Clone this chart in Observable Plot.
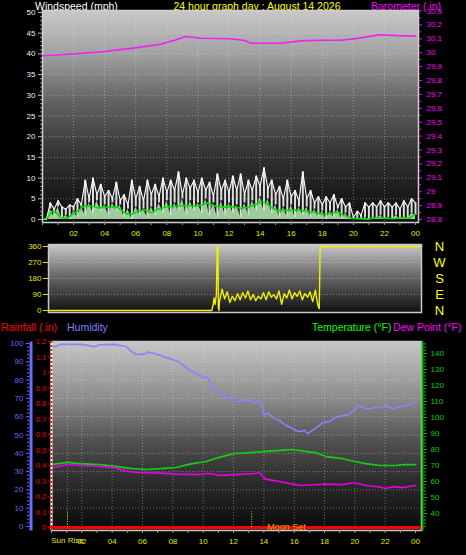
<!DOCTYPE html>
<html><head><meta charset="utf-8">
<script src="https://cdn.jsdelivr.net/npm/d3@7"></script>
<script src="https://cdn.jsdelivr.net/npm/@observablehq/plot@0.6"></script>
<style>
html,body{margin:0;padding:0;background:#000;overflow:hidden}
#wrap{position:relative;width:466px;height:555px;background:#000;font-family:"Liberation Sans",Arial,sans-serif}
.t{position:absolute;white-space:nowrap;font-size:10.5px;line-height:1}
</style></head><body>
<svg width="0" height="0" style="position:absolute"><defs>
<linearGradient id="gTop" x1="0" y1="0" x2="0" y2="1">
<stop offset="0" stop-color="#c8c8c8"/><stop offset="0.2" stop-color="#a2a2a2"/><stop offset="0.42" stop-color="#646464"/><stop offset="0.68" stop-color="#323232"/><stop offset="1" stop-color="#0a0a0a"/>
</linearGradient>
<linearGradient id="gDir" x1="0" y1="0" x2="0" y2="1">
<stop offset="0" stop-color="#c8c8c8"/><stop offset="0.45" stop-color="#6a6a6a"/><stop offset="1" stop-color="#101010"/>
</linearGradient>
<linearGradient id="gBot" x1="0" y1="0" x2="0" y2="1">
<stop offset="0" stop-color="#c6c6c6"/><stop offset="0.3" stop-color="#8c8c8c"/><stop offset="0.52" stop-color="#525252"/><stop offset="0.75" stop-color="#2a2a2a"/><stop offset="1" stop-color="#0a0a0a"/>
</linearGradient>
</defs></svg>
<div id="wrap">
<div class="t" style="left:35px;top:1px;color:#ffffff">Windspeed (mph)</div>
<div class="t" style="left:257px;top:1px;color:#ffff00;transform:translateX(-50%)">24 hour graph day : August 14 2026</div>
<div class="t" style="left:371px;top:1px;color:#ff00ff">Barometer (.in)</div>
<div class="t" style="left:1px;top:322px;color:#ff0000">Rainfall (.in)</div>
<div class="t" style="left:67px;top:322px;color:#8080ff">Humidity</div>
<div class="t" style="left:312px;top:322px;color:#00ff00">Temperature (°F)</div>
<div class="t" style="left:393px;top:322px;color:#ff00ff">Dew Point (°F)</div>
</div>
<script>
// ---------- data ----------
const hourTicks = [2,4,6,8,10,12,14,16,18,20,22,24];
const hourLabels = ["02","04","06","08","10","12","14","16","18","20","22","00"];
const hourMinor = [0,1,2,3,4,5,6,7,8,9,10,11,12,13,14,15,16,17,18,19,20,21,22,23,24];
const gridHours = [2,4,6,8,10,12,14,16,18,20,22];

const windTicks = [0,5,10,15,20,25,30,35,40,45,50];
const windMinor = [1,2,3,4,6,7,8,9,11,12,13,14,16,17,18,19,21,22,23,24,26,27,28,29,31,32,33,34,36,37,38,39,41,42,43,44,46,47,48,49];
const baroTicks = [28.8,28.9,29,29.1,29.2,29.3,29.4,29.5,29.6,29.7,29.8,29.9,30,30.1,30.2,30.3];
const baroMinor = [28.85,28.95,29.05,29.15,29.25,29.35,29.45,29.55,29.65,29.75,29.85,29.95,30.05,30.15,30.25];
const dirTicks = [0,90,180,270,360];
const dirLetters = ["N","W","S","E","N"];
const dirLetterDeg = [360,270,180,90,0];
const humTicks = [0,10,20,30,40,50,60,70,80,90,100];
const humMinor = [2,4,6,8,12,14,16,18,22,24,26,28,32,34,36,38,42,44,46,48,52,54,56,58,62,64,66,68,72,74,76,78,82,84,86,88,92,94,96,98];
const rainTicks = [0,0.1,0.2,0.3,0.4,0.5,0.6,0.7,0.8,0.9,1,1.1,1.2];
const tempTicks = [40,50,60,70,80,90,100,110,120,130,140];
const tempMinor = [32,34,36,38,42,44,46,48,52,54,56,58,62,64,66,68,72,74,76,78,82,84,86,88,92,94,96,98,102,104,106,108,112,114,116,118,122,124,126,128,132,134,136,138,142,144,146];

// wind samples every 15 minutes (mph)
const windStepHours = 0.25;
const windGust = [
 0,0,4,2.5,4.5,3,2.5,3.5,
 3,5,3.5,9.5,5,10,6,8.5,
 5.5,7,5,9,4.5,6,3.5,9.5,
 5,8,4.5,9.5,6,8.5,5.5,10,
 6.5,9.5,7,11.5,6,10,7.5,9.5,
 6.5,10,7,9,5.5,11,7,9.5,
 6.5,10.5,7,11,6,9.5,7,10.5,
 8,12.5,7.5,9.5,6,8,5,9.5,
 5.5,7,4.5,11.5,5,7,4,5.5,
 3.5,5.5,4,6,3,5,3,4,
 0.5,2,1,4,3,4,3,4.5,
 3,4,3,4,2.5,4.5,3,5,
 4];
const windSpeed = [
 0,0,2.5,0.5,3,0,1,0,
 2,0.5,3,1,4,1.5,4.5,2,
 3.5,1,4,2,3.5,0.5,2.5,0,
 3,1,2.5,0.5,3,1,4,1.5,
 4.5,1,4,2,5,1,4.5,2,
 4,1.5,5,1,4,0.5,4.5,1,
 4,1.5,3.5,0.5,4,1,4.5,2,
 5.5,2,5,1.5,3.5,0.5,3,0.5,
 3.5,0.5,3,1,3,0.5,2.5,0.5,
 2,0,2,0.5,2.5,0,1.5,0,
 0,0,0,0.5,0,0.5,0,1,
 0,0.5,0,1,0,0.5,0,1.5,
 1];
// 10-minute average wind [hour, mph]
const windAvg = [[0,0],[0.3,0.3],[0.6,2],[0.9,1.6],[1.2,0.4],[1.6,0.3],[2,1.5],[2.4,2.4],[2.7,3.3],[3.2,3.2],[3.6,2.8],[4.2,3.0],[4.8,3.0],[5.1,2.2],[5.4,1.3],[5.8,1.3],[6.2,2.1],[6.6,2.3],[7.0,1.6],[7.4,2.4],[8.0,3.1],[8.6,3.2],[9.2,3.4],[9.8,3.2],[10.3,3.6],[10.6,4.0],[11.0,3.3],[11.6,3.0],[12.2,3.1],[12.8,2.7],[13.3,3.0],[13.7,3.6],[14.1,4.4],[14.4,4.0],[14.7,3.0],[15.1,2.2],[15.8,2.2],[16.5,2.3],[17.0,2.0],[17.6,1.7],[18.0,1.2],[18.5,1.5],[19.0,1.8],[19.4,1.0],[19.8,0.4],[20.3,0.2],[21.0,0.1],[21.5,0.5],[22.0,0.3],[22.6,0.2],[23.2,0.5],[23.6,0.3],[24,1.3]];
// barometer [hour, inHg]
const baro = [[0,29.978],[1.2,29.985],[3.7,30.005],[5.7,30.031],[7.6,30.061],[8.6,30.093],[9.2,30.117],[10.2,30.104],[12.1,30.1],[13.0,30.088],[13.4,30.068],[15.3,30.068],[16.6,30.085],[17.9,30.09],[19.2,30.09],[20.4,30.105],[21.7,30.129],[23,30.122],[24,30.119]];
// wind direction [hour, degrees]
const windDir = [[0,0],[10.5,0],[10.58,25],[10.65,70],[10.72,35],[10.8,90],[10.86,360],[10.9,360],[10.93,15],[10.97,0],
 [11.0,50],[11.17,120],[11.33,65],[11.5,105],[11.67,45],[11.83,80],[12.0,55],[12.17,95],[12.33,60],[12.5,100],
 [12.67,70],[12.83,110],[13.0,60],[13.17,90],[13.33,55],[13.5,80],[13.67,65],[13.83,100],[14.0,60],[14.17,105],
 [14.33,75],[14.5,90],[14.67,65],[14.83,110],[15.0,35],[15.17,95],[15.33,70],[15.5,115],[15.67,65],[15.83,100],
 [16.0,80],[16.17,110],[16.33,60],[16.5,95],[16.67,75],[16.83,105],[17.0,50],[17.17,115],[17.33,30],[17.42,10],
 [17.48,360],[24,360]];
// humidity [hour, %]
const humidity = [[0,97.8],[0.6,99.5],[1.9,99.5],[2.4,99],[2.8,98.2],[3.2,99.3],[4.2,99.5],[4.9,98.4],[5.3,95.5],[5.6,94],[6.1,94.2],[6.4,95.3],[7.2,93.4],[7.8,91.6],[8.5,89.6],[9.0,86],[9.2,85.2],[9.8,82.3],[10.3,81.3],[10.6,76.5],[10.8,74.3],[11.3,71.5],[11.6,69.9],[12.0,70.8],[12.3,68.2],[12.8,69.2],[13.4,67.8],[13.7,69],[13.9,65.5],[14.0,61],[14.3,61.8],[14.6,59.5],[15.1,57.5],[15.4,55.5],[15.8,54],[16.1,52.5],[16.4,51.8],[16.7,52.6],[16.9,50.8],[17.2,52.5],[17.4,53.6],[17.9,56.8],[18.3,57.2],[18.7,59.6],[19.2,60.5],[19.6,61.2],[20.0,63.8],[20.2,66.1],[20.5,65.2],[20.8,64.2],[21.2,64.8],[21.7,65],[22.1,66],[22.5,64.3],[23.0,65.6],[23.5,66.4],[23.9,67.8]];
// temperature [hour, °F]
const temperature = [[0,70.6],[1.05,71.9],[1.9,71.2],[3.2,70.5],[4.2,69.4],[5.2,68.2],[6.2,67.5],[7.2,68],[8.2,68.75],[9.2,71],[10.2,72.5],[10.8,74.4],[11.5,76.2],[12.1,77.5],[13.1,78.1],[14.1,78.8],[15.1,79.4],[15.9,80],[16.7,78.8],[17.4,78.1],[18.1,75.6],[19.1,74.4],[20.0,72.5],[20.7,71.2],[21.7,70],[22.7,70],[23.2,70.6],[24,70.6]];
// dew point [hour, °F]
const dewPoint = [[0,68.5],[1.05,70.6],[1.9,70],[3.2,69.4],[4.2,68.5],[4.9,66.5],[5.8,65.6],[7.2,65.2],[8.5,64.4],[9.8,64.4],[10.4,65],[11.1,63.8],[12.4,64.4],[13.4,65],[13.7,65.6],[14.1,61.5],[14.7,60.6],[15.3,59.5],[15.8,58.5],[16.4,57.5],[17.0,57.8],[18.1,58.4],[19.1,58.1],[20.0,59.2],[20.7,57.5],[21.7,56.5],[22.0,55.6],[22.6,56.8],[23.1,56.2],[24,57.5]];
// rainfall total (in)
const rainfall = [0];
// sun / moon events [hour]
const sunRiseHour = 1.05;
const moonLineHour = 13.2;
const moonSetLabelHour = 15.5;

// ---------- helpers ----------
const wrap = document.getElementById("wrap");
const FONT = '"Liberation Sans", Arial, sans-serif';
function layer(opts) {
  const svg = Plot.plot({
    width: 466, height: 555,
    style: {position: "absolute", left: "0px", top: "0px", background: "transparent", fontFamily: FONT, overflow: "visible"},
    ...opts
  });
  wrap.appendChild(svg);
}
const hourFmt = d => hourLabels[hourTicks.indexOf(d)];
const noText = () => "";
const gridStyle = {stroke: "#e8e8e8", strokeOpacity: 0.4, strokeDasharray: "1,2"};
const yellow = "#e6e600";

const windSamples = windGust.map((g, i) => ({h: i * windStepHours, gust: g, speed: windSpeed[i]}));

// ---------- top panel: windspeed ----------
layer({
  marginLeft: 42, marginRight: 48, marginTop: 10, marginBottom: 333,
  x: {domain: [0, 24], range: [42, 415], axis: null, label: null},
  y: {domain: [0, 50], range: [219, 12], axis: null, label: null},
  marks: [
    Plot.frame({fill: "url(#gTop)"}),
    Plot.ruleX(gridHours, gridStyle),
    Plot.ruleY(windTicks.slice(1, -1), gridStyle),
    Plot.ruleX(windSamples, {x: "h", y1: "speed", y2: "gust", stroke: "#ffffff", strokeOpacity: 0.85, strokeWidth: 2}),
    Plot.lineY(windSamples, {x: "h", y: "gust", stroke: "#ffffff", strokeWidth: 1.1}),
    Plot.areaY(windSamples, {x: "h", y: "speed", fill: "#b8ecb8", fillOpacity: 0.85}),
    Plot.line(windAvg, {x: d => d[0], y: d => d[1], stroke: "#00e000", strokeWidth: 1.6}),
    Plot.frame({stroke: "#cfcfcf", strokeWidth: 1.5}),
    Plot.axisY({anchor: "left", ticks: windTicks, tickSize: 4, tickPadding: 3, fill: "#e8eeff", stroke: "#bdbdbd", fontSize: 8, label: null}),
    Plot.axisY({anchor: "left", ticks: windMinor, tickSize: 2, tickFormat: noText, stroke: "#9a9a9a", label: null}),
    Plot.axisX({anchor: "bottom", ticks: hourTicks, tickFormat: hourFmt, tickSize: 0, tickPadding: 8, fill: yellow, fontSize: 8, label: null}),
    Plot.axisX({anchor: "bottom", ticks: hourMinor, tickSize: 3, tickFormat: noText, stroke: "#9a9a9a", label: null})
  ]
});
// barometer overlay
layer({
  marginLeft: 42, marginRight: 48, marginTop: 10, marginBottom: 333,
  x: {domain: [0, 24], range: [42, 415], axis: null, label: null},
  y: {domain: [28.8, 30.3], range: [219, 10.5], axis: null, label: null},
  marks: [
    Plot.line(baro, {x: d => d[0], y: d => d[1], stroke: "#f020f0", strokeWidth: 1.6}),
    Plot.axisY({anchor: "right", ticks: baroTicks, tickSize: 3, tickPadding: 5, tickFormat: d => String(+d.toFixed(1)), fill: "#ff00ff", stroke: "#ff00ff", fontSize: 8, label: null}),
    Plot.axisY({anchor: "right", ticks: baroMinor, tickSize: 2, tickFormat: noText, stroke: "#ff00ff", label: null})
  ]
});

// ---------- wind direction panel ----------
layer({
  marginLeft: 48, marginRight: 45, marginTop: 244, marginBottom: 243,
  x: {domain: [0, 24], range: [48, 421], axis: null, label: null},
  y: {domain: [0, 360], range: [310, 246], axis: null, label: null},
  marks: [
    Plot.frame({fill: "url(#gDir)"}),
    Plot.ruleY([90, 180, 270], gridStyle),
    Plot.line(windDir, {x: d => d[0], y: d => d[1], stroke: "#f0f000", strokeWidth: 1.4}),
    Plot.frame({stroke: "#c8c8c8", strokeWidth: 1.5}),
    Plot.axisY({anchor: "left", ticks: dirTicks, tickSize: 5, tickPadding: 2, fill: yellow, stroke: yellow, fontSize: 8, label: null}),
    Plot.text(dirLetters, {y: (d, i) => dirLetterDeg[i], text: d => d, frameAnchor: "right", textAnchor: "middle", dx: 18, fill: "#ffff00", fontSize: 13, fontFamily: FONT})
  ]
});

// ---------- bottom panel ----------
const botMargins = {marginLeft: 51, marginRight: 45, marginTop: 341, marginBottom: 25};
const botX = {domain: [0, 24], range: [51, 415], axis: null, label: null};
layer({
  ...botMargins,
  x: botX,
  y: {domain: [0, 100], range: [526, 343], axis: null, label: null},
  marks: [
    Plot.frame({fill: "url(#gBot)"}),
    Plot.ruleX(gridHours, gridStyle),
    Plot.ruleX([sunRiseHour], gridStyle),
    Plot.ruleY(humTicks.slice(1, -1), gridStyle),
    Plot.line(humidity, {x: d => d[0], y: d => d[1], stroke: "#8585ff", strokeWidth: 1.6}),
    Plot.frame({stroke: "#c8c8c8", strokeWidth: 1.5}),
    Plot.axisX({anchor: "bottom", ticks: hourTicks, tickFormat: hourFmt, tickSize: 0, tickPadding: 8, fill: yellow, fontSize: 8, label: null}),
    Plot.axisX({anchor: "bottom", ticks: hourMinor, tickSize: 3, tickFormat: noText, stroke: "#9a9a9a", label: null})
  ]
});
layer({
  ...botMargins,
  x: botX,
  y: {domain: [40, 140], range: [513, 353], axis: null, label: null},
  marks: [
    Plot.line(temperature, {x: d => d[0], y: d => d[1], stroke: "#10d010", strokeWidth: 1.7}),
    Plot.line(dewPoint, {x: d => d[0], y: d => d[1], stroke: "#e000e0", strokeWidth: 1.7})
  ]
});
layer({
  ...botMargins,
  x: botX,
  y: {domain: [0, 1.2], range: [527, 341], axis: null, label: null},
  marks: [
    Plot.ruleX([0], {stroke: "#ffffff", strokeWidth: 2}),
    Plot.ruleX([0], {stroke: "#e02020", strokeWidth: 2, strokeDasharray: "2,2"}),
    Plot.ruleY(rainfall, {stroke: "#ff0000", strokeWidth: 3}),
    Plot.ruleX([sunRiseHour, moonLineHour], {y1: 0, y2: 0.1, stroke: "#e6e600", strokeDasharray: "1,1.5"}),
    Plot.text(["Moon Set"], {x: moonSetLabelHour, y: 0, fill: "#e8a800", fontSize: 9, fontFamily: FONT}),
    Plot.text(["Sun Rise"], {x: sunRiseHour, frameAnchor: "bottom", dy: 12, fill: yellow, fontSize: 8, fontFamily: FONT}),
    Plot.axisY({anchor: "left", ticks: rainTicks, tickSize: 3, tickPadding: 2, tickFormat: d => String(+d.toFixed(1)), fill: "#e00000", stroke: "#e00000", fontSize: 8, label: null})
  ]
});
// humidity axis
layer({
  marginLeft: 29, marginRight: 434, marginTop: 341, marginBottom: 25,
  y: {domain: [0, 100], range: [526, 343], axis: null, label: null},
  marks: [
    Plot.frame({fill: "#6c6cff"}),
    Plot.axisY({anchor: "left", ticks: humTicks, tickSize: 3, tickPadding: 3, fill: "#5a6cff", stroke: "#6c6cff", fontSize: 8, label: null}),
    Plot.axisY({anchor: "left", ticks: humMinor, tickSize: 2, tickFormat: noText, stroke: "#6c6cff", label: null})
  ]
});
// temperature axis
layer({
  marginLeft: 421, marginRight: 43, marginTop: 341, marginBottom: 25,
  y: {domain: [40, 140], range: [513, 353], axis: null, label: null},
  marks: [
    Plot.frame({fill: "#00c000"}),
    Plot.axisY({anchor: "right", ticks: tempTicks, tickSize: 3, tickPadding: 4, fill: "#00d000", stroke: "#00c000", fontSize: 8, label: null}),
    Plot.axisY({anchor: "right", ticks: tempMinor, tickSize: 2, tickFormat: noText, stroke: "#00c000", label: null})
  ]
});
</script>
</body></html>
